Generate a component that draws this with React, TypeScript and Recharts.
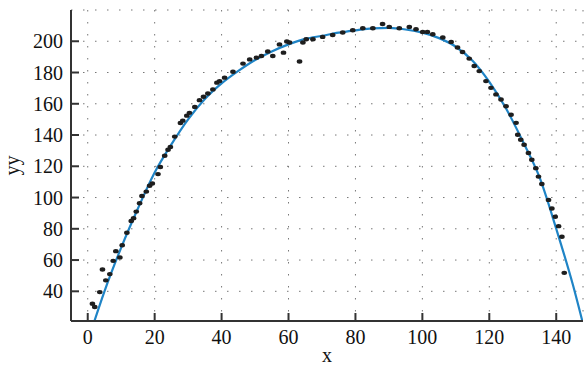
import { ComposedChart, Scatter, Line, XAxis, YAxis, CartesianGrid, Label } from "recharts";

// measured samples
const sampleX = [
  1.4, 2.1, 3.6, 4.4, 5.4, 6.6, 7.6, 8.4, 9.6, 10.3, 11.7, 13, 13.7, 14.5, 15.5, 16.2, 17.5, 18.5, 19.3,
  21, 21.7, 23, 24, 24.7, 26, 27.7, 28.4, 29.6, 30.4, 32, 33.4, 34.6, 35.9, 37.4, 38.6, 39.4, 40.9, 43.4,
  46.4, 48.4, 50.4, 51.9, 53.8, 55.3, 57.3, 58.5, 59.5, 60.3, 63.3, 64.3, 65.3, 67.3, 70.2, 73.2, 76.2,
  79.2, 82.2, 85.2, 88.1, 90.1, 93.1, 96.1, 98.1, 100.1, 101.5, 103.1, 106.1, 108.6, 110.5, 112, 114,
  115.5, 117, 119, 120.5, 122, 123.5, 125, 126.5, 128, 128.5, 129.4, 130.4, 131.7, 132.7, 133.9, 134.7,
  135.7, 137.7, 138.7, 139.7, 140.7, 141.7, 142.4,
];
const sampleY = [
  32, 30, 39.5, 54, 47, 51, 59.5, 65.7, 61.7, 69.5, 77.5, 85, 86.7, 91, 96.3, 101, 103.8, 107.5, 109,
  115, 119.5, 126.7, 130.6, 132.3, 139, 147.7, 149.2, 152.4, 154.2, 158, 162.3, 164.5, 166.6, 169.2, 173.5, 174.5, 176.7, 180.5,
  185.7, 188.4, 189.5, 190.6, 193.4, 190.6, 198, 192.7, 199.8, 199.2, 187, 199.2, 201.3, 201.3, 202.8, 204, 205.6,
  207, 208.3, 208.3, 211, 209.2, 208.3, 209.2, 207.7, 206, 206, 204.5, 202.4, 199.6, 196, 193.1, 188.9,
  184.2, 180.9, 174.5, 170.2, 166, 162.7, 158.4, 153, 147.8, 140.2, 137, 133.8, 128.5, 124.2, 118.8, 113.4,
  108.7, 98.5, 93, 87.7, 81.7, 74.9, 51.8,
];

// fitted curve
const fitX = [2, 5, 10, 15, 20, 25, 30, 35, 40, 45, 50, 55, 60, 65, 70, 75, 80, 85, 90, 95, 100, 105, 110, 115, 120, 125, 130, 135, 140, 145, 147.8];
const fitY = [21, 40, 68, 93, 116, 134, 150, 163, 173, 181, 188, 193.5, 198, 201.5, 203.5, 205.5, 207, 208.3, 208.5, 207.5, 205.5, 202, 196.5, 187.5, 174, 157, 136, 113, 80, 44, 21];

const xTicks = [0, 20, 40, 60, 80, 100, 120, 140];
const yTicks = [40, 60, 80, 100, 120, 140, 160, 180, 200];

const samples = sampleX.map((x, i) => ({ x, y: sampleY[i] }));
const fit = fitX.map((x, i) => ({ x, y: fitY[i] }));

const font = "'Liberation Serif', 'DejaVu Serif', serif";
const ink = "#111";

const Blob = (props: any) => <ellipse cx={props.cx} cy={props.cy} rx={2.8} ry={2.2} fill="#1e1e1e" />;

export default function App() {
  return (
    <div style={{ position: "absolute", left: 0, top: 0, background: "#fff" }}>
      <ComposedChart width={585} height={366} margin={{ top: 10, right: 2, left: 0, bottom: 0 }}>
        <CartesianGrid stroke="#777" strokeDasharray="1.5 10.5" />
        <XAxis
          dataKey="x"
          type="number"
          domain={[-5, 148]}
          ticks={xTicks}
          allowDataOverflow
          height={45}
          tickSize={-8}
          tickMargin={17}
          axisLine={{ stroke: "#333", strokeWidth: 2 }}
          tickLine={{ stroke: "#333", strokeWidth: 2 }}
          tick={{ fontFamily: font, fontSize: 20, fill: ink }}
        >
          <Label value="x" position="insideBottom" offset={4} style={{ fontFamily: font, fontSize: 20, fill: ink }} />
        </XAxis>
        <XAxis
          xAxisId="top"
          orientation="top"
          type="number"
          domain={[-5, 148]}
          ticks={xTicks}
          allowDataOverflow
          height={0}
          tickSize={-8}
          tick={false}
          axisLine={{ stroke: "#111", strokeWidth: 1.5 }}
          tickLine={{ stroke: "#111", strokeWidth: 2 }}
        />
        <YAxis
          type="number"
          domain={[21, 220]}
          ticks={yTicks}
          allowDataOverflow
          width={71}
          tickSize={-8}
          tickMargin={16}
          axisLine={{ stroke: "#333", strokeWidth: 2 }}
          tickLine={{ stroke: "#333", strokeWidth: 2 }}
          tick={{ fontFamily: font, fontSize: 20, fill: ink }}
        >
          <Label
            content={({ viewBox }: any) => {
              const cy = viewBox.y + viewBox.height / 2;
              return (
                <text x={12} y={cy} transform={`rotate(-90, 12, ${cy})`} textAnchor="middle" dominantBaseline="central"
                  style={{ fontFamily: font, fontSize: 20, fill: ink }}>
                  yy
                </text>
              );
            }}
          />
        </YAxis>
        <YAxis
          yAxisId="right"
          orientation="right"
          type="number"
          domain={[21, 220]}
          ticks={yTicks}
          allowDataOverflow
          width={0}
          tickSize={-8}
          tick={false}
          axisLine={{ stroke: "#111", strokeWidth: 1.5 }}
          tickLine={{ stroke: "#111", strokeWidth: 2 }}
        />
        <Scatter data={samples} dataKey="y" shape={Blob} isAnimationActive={false} />
        <Line data={fit} dataKey="y" type="monotone" stroke="#1f84c6" strokeWidth={2.2} dot={false} activeDot={false} isAnimationActive={false} />
      </ComposedChart>
    </div>
  );
}
